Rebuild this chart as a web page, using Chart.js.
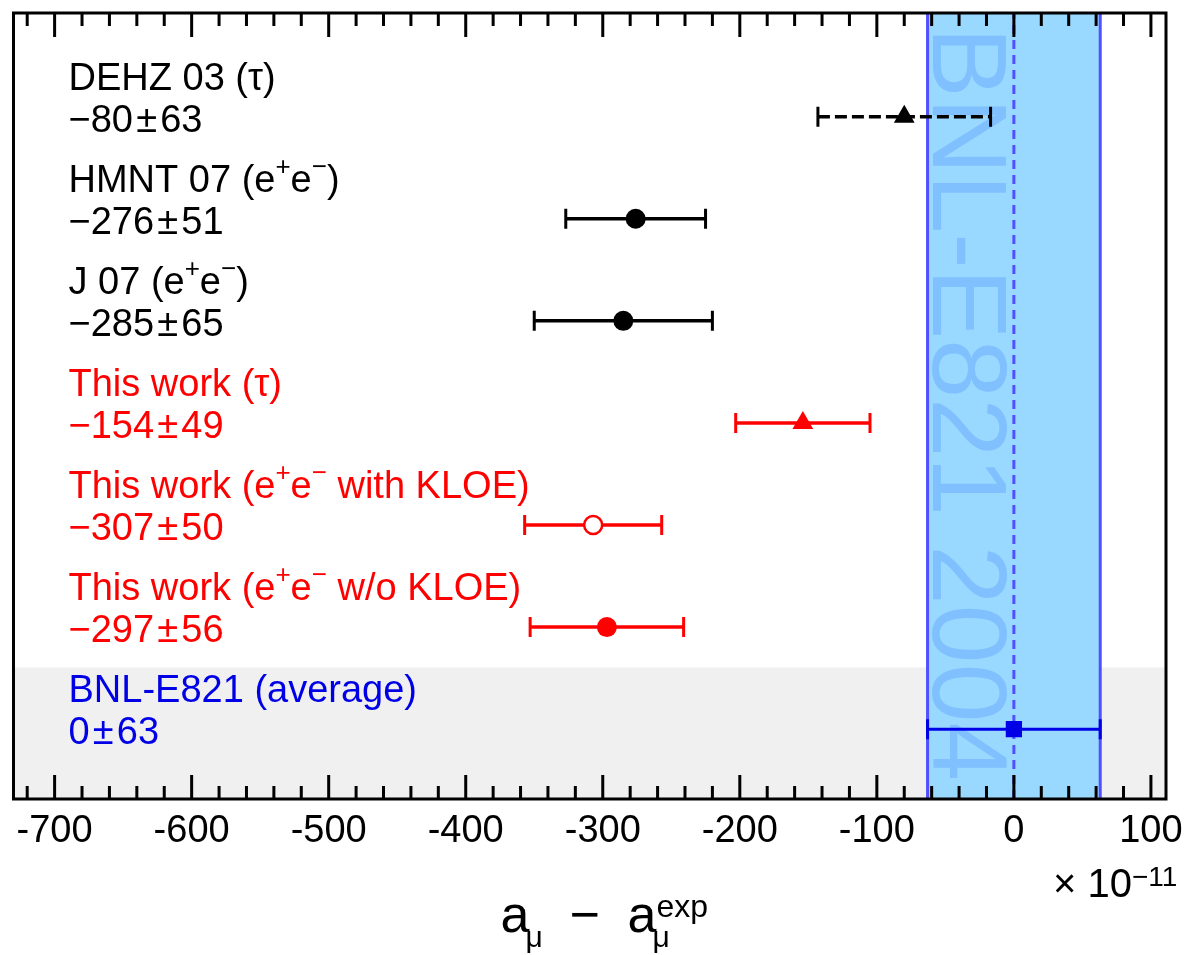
<!DOCTYPE html>
<html>
<head>
<meta charset="utf-8">
<script src="https://cdn.jsdelivr.net/npm/chart.js@4.4.1/dist/chart.umd.min.js"></script>
<style>
  html, body { margin: 0; padding: 0; background: #fff; }
  #wrap { width: 1186px; height: 955px; position: relative; }
</style>
</head>
<body>
<div id="wrap"><canvas id="chart"></canvas></div>
<script>
// rows, top to bottom
const rowNames = [
    'DEHZ 03 (τ)',
    'HMNT 07 (e^{+}e^{−})',
    'J 07 (e^{+}e^{−})',
    'This work (τ)',
    'This work (e^{+}e^{−} with KLOE)',
    'This work (e^{+}e^{−} w/o KLOE)',
    'BNL-E821 (average)'
];
const centralValues = [-80, -276, -285, -154, -307, -297, 0];
const errorValues = [63, 51, 65, 49, 50, 56, 63];
const rowColors = ['#000000', '#000000', '#000000', '#ff0000', '#ff0000', '#ff0000', '#0000e6'];
const markerStyles = ['triangle', 'circle', 'circle', 'triangle', 'circle', 'circle', 'rect'];
const markerOpen = [false, false, false, false, true, false, false];
const dashedRows = [true, false, false, false, false, false, false];

// experimental band
const bandCenter = 0;
const bandHalfWidth = 63;
const bandLabel = 'BNL-E821 2004';

const xMin = -730, xMax = 111;
const yMin = 0.316, yMax = 8.016;
const bnlPanelTop = 1.605;
const minorStep = 20;
const FONT = '"Liberation Sans", Arial, Helvetica, sans-serif';

const rowY = i => rowNames.length - i;

function valueText(c, e) {
    return (c < 0 ? '\u2212' + Math.abs(c) : String(c)) + '\u200a\u00b1\u200a' + e;
}

// draw "a^{b}" style text, superscripts smaller and raised
function drawRich(ctx, text, x, y, size) {
    const parts = text.split(/\^\{(.*?)\}/);
    for (let i = 0; i < parts.length; i++) {
        if (!parts[i]) continue;
        const sup = i % 2 === 1;
        ctx.font = (sup ? 26 : size) + 'px ' + FONT;
        ctx.fillText(parts[i], x, sup ? y - 17 : y);
        x += ctx.measureText(parts[i]).width;
    }
}

let datasets = [];

// grey panel behind the BNL row
datasets.push({
    data: [{x: xMin, y: bnlPanelTop}, {x: xMax, y: bnlPanelTop}],
    fill: 'start', backgroundColor: '#f0f0f0',
    borderColor: 'transparent', borderWidth: 0, pointRadius: 0
});
// experimental band
datasets.push({
    isBand: true,
    data: [{x: bandCenter - bandHalfWidth, y: yMax}, {x: bandCenter + bandHalfWidth, y: yMax}],
    fill: 'start', backgroundColor: '#99d9ff',
    borderColor: 'transparent', borderWidth: 0, pointRadius: 0
});
for (const v of [bandCenter - bandHalfWidth, bandCenter + bandHalfWidth]) {
    datasets.push({
        data: [{x: v, y: yMin}, {x: v, y: yMax}],
        borderColor: '#5050ff', borderWidth: 3, pointRadius: 0, fill: false
    });
}
datasets.push({
    data: [{x: bandCenter, y: yMin}, {x: bandCenter, y: yMax}],
    borderColor: '#5050ff', borderWidth: 3, borderDash: [9, 6], pointRadius: 0, fill: false
});

// error bars + markers
for (let i = 0; i < rowNames.length; i++) {
    const y = rowY(i);
    const c = centralValues[i], e = errorValues[i];
    const col = rowColors[i];
    const w = i === rowNames.length - 1 ? 3 : 3.5;
    datasets.push({
        data: [{x: c - e, y: y}, {x: c + e, y: y}],
        borderColor: col, borderWidth: w,
        borderDash: dashedRows[i] ? [12, 5] : [],
        pointStyle: 'line', pointRotation: 90, pointRadius: 10,
        pointBorderColor: col, pointBorderWidth: 3, fill: false
    });
    let r = 10;
    if (markerStyles[i] === 'triangle') r = 12;
    if (markerStyles[i] === 'rect') r = 11.5;
    if (markerOpen[i]) r = 9;
    datasets.push({
        data: [{x: c, y: y}],
        showLine: false,
        pointStyle: markerStyles[i], pointRadius: r,
        pointBackgroundColor: markerOpen[i] ? '#ffffff' : col,
        pointBorderColor: col, pointBorderWidth: markerOpen[i] ? 2.5 : 0
    });
}
datasets.forEach((d, i) => { d.order = datasets.length - i; });

const bandText = {
    id: 'bandText',
    afterDatasetDraw(chart, args) {
        if (!chart.data.datasets[args.index].isBand) return;
        const {ctx, chartArea, scales: {x}} = chart;
        ctx.save();
        ctx.beginPath();
        ctx.rect(chartArea.left, chartArea.top, chartArea.width, chartArea.height);
        ctx.clip();
        ctx.translate(x.getPixelForValue(bandCenter - bandHalfWidth) + 5, chartArea.top + 14);
        ctx.rotate(Math.PI / 2);
        ctx.font = '106px ' + FONT;
        ctx.fillStyle = '#80c0ff';
        ctx.textBaseline = 'alphabetic';
        ctx.fillText(bandLabel, 0, 0);
        ctx.restore();
    }
};

const rowLabels = {
    id: 'rowLabels',
    afterDatasetsDraw(chart) {
        const {ctx, chartArea, scales: {y}} = chart;
        ctx.save();
        ctx.textAlign = 'left';
        ctx.textBaseline = 'alphabetic';
        for (let i = 0; i < rowNames.length; i++) {
            const py = y.getPixelForValue(rowY(i));
            ctx.fillStyle = rowColors[i];
            drawRich(ctx, rowNames[i], chartArea.left + 55, py - 27, 38);
            ctx.font = '38px ' + FONT;
            ctx.fillText(valueText(centralValues[i], errorValues[i]), chartArea.left + 55, py + 15);
        }
        ctx.restore();
    }
};

const frameAndTicks = {
    id: 'frameAndTicks',
    afterDraw(chart) {
        const {ctx, chartArea: a, scales: {x}} = chart;
        ctx.save();
        ctx.strokeStyle = '#000';
        ctx.lineWidth = 3;
        const majors = x.ticks.map(t => t.value);
        ctx.beginPath();
        for (let v = Math.ceil(x.min / minorStep) * minorStep; v <= x.max; v += minorStep) {
            const px = x.getPixelForValue(v);
            const len = majors.includes(v) ? 24 : 13;
            ctx.moveTo(px, a.bottom); ctx.lineTo(px, a.bottom - len);
            ctx.moveTo(px, a.top); ctx.lineTo(px, a.top + len);
        }
        ctx.stroke();
        ctx.strokeRect(a.left, a.top, a.right - a.left, a.bottom - a.top);

        // axis title  a_mu - a_mu^exp
        ctx.fillStyle = '#000';
        ctx.textAlign = 'left';
        ctx.textBaseline = 'alphabetic';
        const tx = a.left + 487, tb = 932;
        ctx.font = '52px ' + FONT;
        ctx.fillText('a', tx, tb);
        ctx.fillText('\u2212', tx + 69, tb);
        ctx.fillText('a', tx + 127, tb);
        ctx.font = '30px ' + FONT;
        ctx.fillText('\u03bc', tx + 25, tb + 15);
        ctx.fillText('\u03bc', tx + 152, tb + 15);
        ctx.font = '32px ' + FONT;
        ctx.fillText('exp', tx + 156, tb - 15);

        // multiplier
        const mx = a.right - 113, mb = 897;
        ctx.font = '40px ' + FONT;
        ctx.fillText('\u00d7 10', mx, mb);
        const w = ctx.measureText('\u00d7 10').width;
        ctx.font = '28px ' + FONT;
        ctx.fillText('\u221211', mx + w, mb - 11);
        ctx.restore();
    }
};

new Chart(document.getElementById('chart').getContext('2d'), {
    type: 'line',
    data: { datasets: datasets },
    options: {
        responsive: true,
        maintainAspectRatio: false,
        animation: false,
        events: [],
        layout: { padding: { left: 13.5, top: 11, right: 20, bottom: 0 } },
        plugins: { legend: { display: false }, tooltip: { enabled: false } },
        scales: {
            x: {
                type: 'linear', min: xMin, max: xMax,
                ticks: {
                    stepSize: 100, includeBounds: false, autoSkip: false, maxRotation: 0,
                    color: '#000', padding: 10,
                    font: { family: FONT, size: 38 }
                },
                grid: { display: false, drawTicks: false },
                border: { display: false },
                afterFit(scale) {
                    scale.height = 156;
                    scale.paddingLeft = 0;
                    scale.paddingRight = 0;
                }
            },
            y: {
                type: 'linear', min: yMin, max: yMax, display: false
            }
        }
    },
    plugins: [bandText, rowLabels, frameAndTicks]
});
</script>
</body>
</html>
